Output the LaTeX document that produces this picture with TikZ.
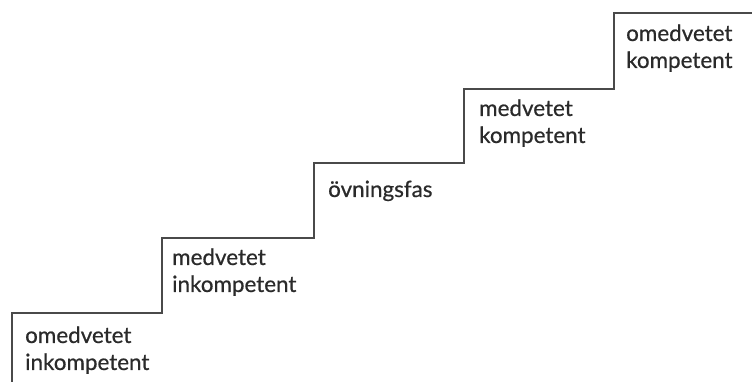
\documentclass[tikz,border=0pt]{standalone}
\usepackage{fontspec}
\setmainfont{Lato}
\newfontfamily\stagefont{Lato}[FakeBold=0.6]
\definecolor{stairgray}{HTML}{4A4A4A}
\definecolor{textgray}{HTML}{2A2A2A}

\begin{document}
\begin{tikzpicture}[x=1pt,y=1pt,
        stage/.style={anchor=base west, align=left, inner sep=0pt, text=textgray,
            font=\stagefont\fontsize{22.4}{27}\selectfont}]
        \useasboundingbox (0,0) rectangle (752,382);
        \draw[stairgray, line width=2.2pt] (12,0) -- (12,69) -- (162,69) -- (162,144) -- (314,144)
            -- (314,219) -- (464,219) -- (464,293) -- (614,293) -- (614,369) -- (752,369);
        \node[stage] (s1) at (25,12) {omedvetet\\inkompetent};
        \node[stage] (s2) at (172,90) {medvetet\\inkompetent};
        \node[stage] (s3) at (328,185) {övningsfas};
        \node[stage] (s4) at (479,239) {medvetet\\kompetent};
        \node[stage] (s5) at (626,314) {omedvetet\\kompetent};
    \end{tikzpicture}
\end{document}
